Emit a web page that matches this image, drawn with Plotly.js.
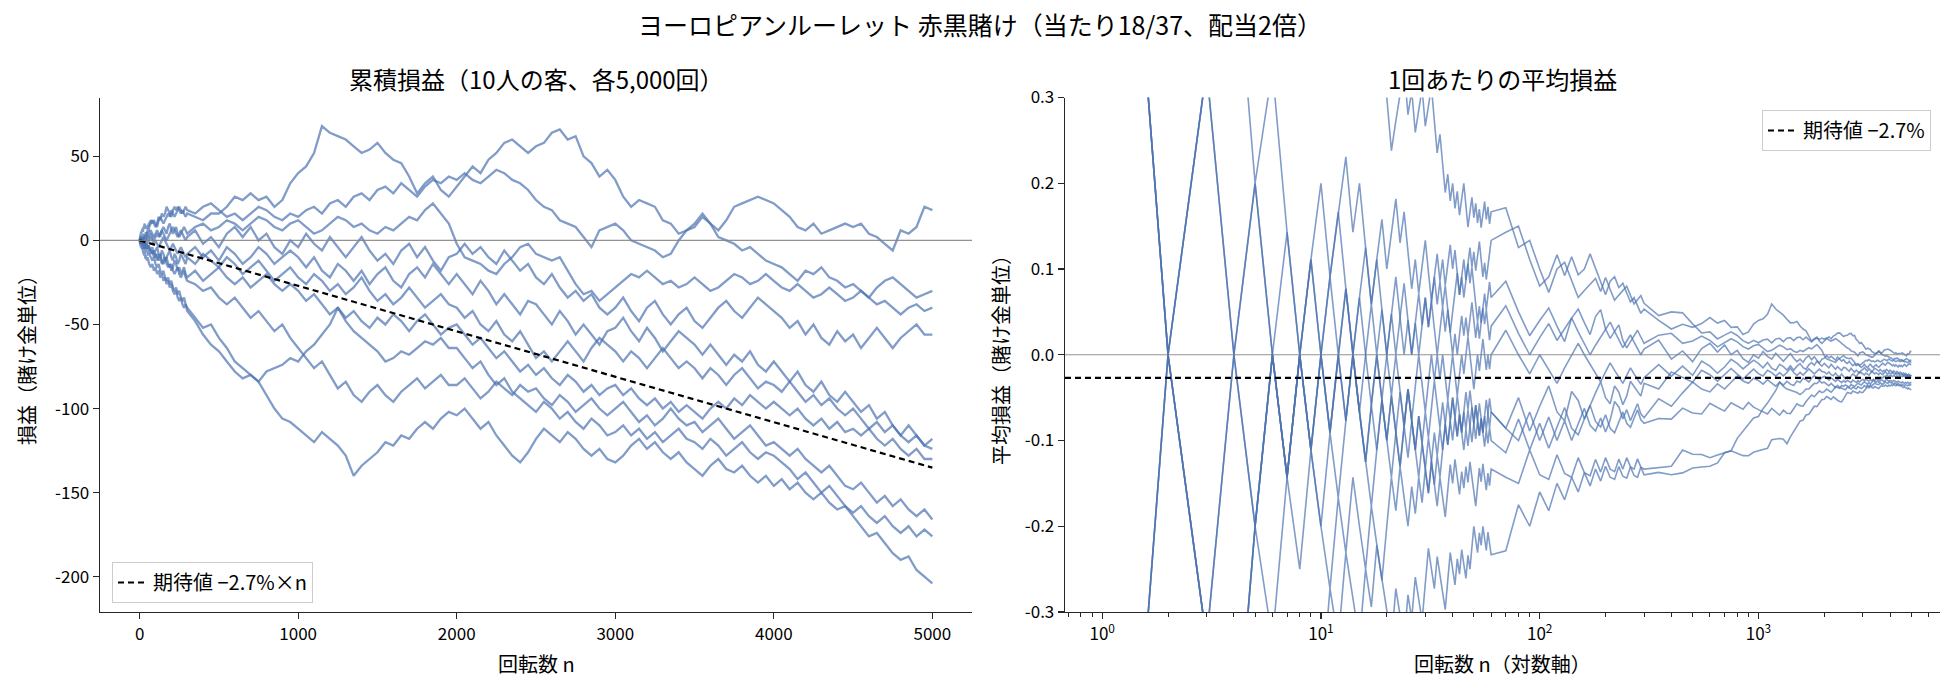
<!DOCTYPE html>
<html>
<head>
<meta charset="utf-8">
<script src="https://cdn.plot.ly/plotly-3.0.1.min.js"></script>
<style>
  body { margin: 0; background: #fff; }
  #chart { width: 1960px; height: 700px; }
</style>
</head>
<body>
<div id="chart"></div>
<script>
// --- data --------------------------------------------------------------
// first 60 spins of each player (1 = win, 0 = loss)
const spins1  = '1011010011 0110100110 1101001011 0011010110 1001101101 0110010111';
const spins2  = '1101101110 1011011010 0111010110 1100100101 0101100110 1010110101';
const spins3  = '0101100101 1100110100 1011001101 0110101001 1101011010 0010110110';
const spins4  = '1001011010 0110100101 1100101011 0100110100 1011010110 0101101001';
const spins5  = '0110010101 1010011010 0100101100 1101010011 0011011000 1101100101';
const spins6  = '1010100110 0101001010 1001100101 0110010010 1010110100 0101011001';
const spins7  = '0100110010 1011001100 0110100100 1001011011 0100101001 1010010110';
const spins8  = '0010101101 0101000110 1001010010 0110101101 0010010110 1001001010';
const spins9  = '1000110100 0101001001 1010010101 0100100110 1001010100 0110100101';
const spins10 = '0001010010 1010010100 0100101001 1001000110 0101001011 0010100100';

// spin counts where the running total was read
const checkN = [
  70, 80, 90, 100, 110, 120, 130, 140, 150, 160, 170, 180, 190, 200, 210, 220, 230, 240, 250, 260, 270, 280, 290, 300,
  350, 400, 450, 500, 550, 600, 650, 700, 750, 800, 850, 900, 950, 1000,
  1050, 1100, 1150, 1200, 1250, 1300, 1350, 1400, 1450, 1500, 1550, 1600, 1650, 1700, 1750, 1800, 1850, 1900, 1950, 2000,
  2050, 2100, 2150, 2200, 2250, 2300, 2350, 2400, 2450, 2500, 2550, 2600, 2650, 2700, 2750, 2800, 2850, 2900, 2950, 3000,
  3050, 3100, 3150, 3200, 3250, 3300, 3350, 3400, 3450, 3500, 3550, 3600, 3650, 3700, 3750, 3800, 3850, 3900, 3950, 4000,
  4050, 4100, 4150, 4200, 4250, 4300, 4350, 4400, 4450, 4500, 4550, 4600, 4650, 4700, 4750, 4800, 4850, 4900, 4950, 5000
];

// running profit/loss of each player at checkN
const total1 = [
  10, 12, 10, 8, 10, 14, 12, 16, 14, 16, 20, 18, 16, 14, 18, 20, 18, 20, 18, 16, 18, 16, 14, 16,
  14, 12, 16, 16, 20, 26, 24, 28, 24, 26, 20, 24, 34, 40,
  44, 52, 68, 64, 62, 60, 56, 52, 54, 58, 52, 48, 46, 38, 28, 34, 38, 30, 26, 32,
  38, 44, 40, 48, 52, 58, 60, 56, 52, 56, 58, 64, 66, 60, 62, 50, 46, 38, 42, 36,
  26, 20, 24, 22, 20, 12, 10, 4, 6, 8, 14, 10, 6, 12, 20, 22, 24, 26, 24, 22,
  18, 14, 8, 6, 10, 4, 6, 8, 10, 8, 10, 4, 2, -2, -6, 6, 4, 8, 20, 18
];
const total2 = [
  12, 10, 12, 10, 8, 12, 14, 12, 10, 12, 14, 16, 14, 18, 16, 14, 16, 18, 20, 18, 16, 18, 20, 18,
  16, 20, 22, 18, 14, 16, 12, 16, 20, 18, 14, 12, 16, 14,
  18, 20, 16, 22, 24, 20, 26, 28, 24, 30, 32, 28, 34, 30, 26, 32, 36, 34, 38, 36,
  40, 36, 34, 38, 42, 40, 36, 34, 30, 24, 20, 18, 12, 10, 8, 2, -4, 6, 8, 10,
  6, 0, -2, -4, -6, -10, -8, 0, 6, 10, 16, 10, 2, 0, -2, -6, -4, -8, -12, -14,
  -16, -20, -24, -18, -20, -16, -22, -24, -28, -26, -30, -34, -28, -24, -22, -26, -30, -34, -32, -30
];
const total3 = [
  6, 4, 2, 4, 6, 4, 2, 6, 8, 6, 4, 8, 10, 6, 4, 6, 8, 4, 2, 4, 6, 8, 6, 4,
  8, 10, 6, 8, 12, 10, 6, 10, 14, 12, 8, 6, 10, 12,
  8, 4, 6, 10, 14, 12, 8, 10, 6, 4, 8, 6, 10, 14, 12, 18, 22, 16, 10, -2,
  -10, -12, -14, -18, -20, -14, -10, -4, -2, -8, -10, -12, -10, -18, -26, -32, -30, -36, -32, -28,
  -24, -20, -22, -18, -22, -26, -24, -28, -26, -22, -26, -30, -28, -24, -20, -22, -26, -24, -20, -24,
  -28, -30, -26, -30, -34, -32, -28, -32, -36, -34, -30, -34, -38, -36, -40, -44, -40, -38, -42, -40
];
const total4 = [
  4, 2, 0, 2, 4, 2, 4, 6, 4, 2, 0, 2, 4, 6, 8, 6, 4, 2, 4, 6, 4, 2, 0, 2,
  6, -2, 2, -4, 4, 8, 2, 8, 0, 4, -4, -8, 0, -4,
  4, -2, -6, 2, -4, -10, -4, 2, -6, -12, -8, -14, -6, -2, -10, -4, -12, -18, -10, -8,
  -2, -8, -4, -10, -14, -6, -12, -18, -14, -22, -26, -20, -28, -34, -30, -36, -32, -40, -44, -40,
  -34, -42, -48, -40, -36, -44, -50, -44, -40, -48, -52, -46, -40, -36, -42, -46, -40, -34, -38, -42,
  -46, -52, -48, -56, -50, -58, -62, -54, -60, -56, -64, -58, -52, -58, -64, -58, -54, -50, -56, -56
];
const total5 = [
  2, 0, -2, 0, -2, -4, -2, 0, 2, 0, -2, -4, -6, -4, -2, -4, -6, -8, -6, -4, -6, -8, -10, -8,
  -4, -10, -6, -12, -4, -8, -14, -10, -4, -8, -14, -10, -6, -10,
  -16, -10, -18, -22, -14, -18, -24, -18, -26, -20, -16, -24, -28, -20, -16, -22, -14, -20, -26, -20,
  -26, -32, -24, -30, -38, -32, -38, -44, -36, -38, -44, -50, -42, -48, -56, -50, -56, -62, -54, -52,
  -46, -54, -60, -52, -58, -66, -60, -54, -58, -62, -68, -62, -68, -74, -68, -72, -66, -74, -78, -72,
  -78, -84, -78, -86, -90, -84, -92, -96, -90, -96, -102, -98, -106, -102, -110, -116, -110, -116, -122, -118
];
const total6 = [
  -6, -4, -8, -6, -4, -8, -10, -6, -8, -12, -10, -8, -6, -10, -12, -8, -10, -14, -12, -8, -10, -12, -14, -10,
  -14, -8, -12, -16, -10, -14, -20, -16, -12, -18, -24, -20, -16, -22,
  -26, -20, -24, -30, -26, -32, -28, -22, -30, -36, -32, -38, -34, -28, -34, -40, -36, -32, -38, -40,
  -46, -42, -50, -54, -48, -56, -60, -54, -62, -70, -66, -72, -66, -60, -66, -72, -64, -58, -62, -66,
  -72, -66, -70, -76, -70, -64, -70, -76, -72, -76, -82, -76, -80, -86, -80, -76, -82, -88, -84, -86,
  -90, -84, -90, -96, -92, -98, -94, -100, -104, -100, -106, -112, -108, -114, -110, -116, -120, -116, -122, -124
];
const total7 = [
  -6, -8, -6, -10, -8, -12, -10, -14, -12, -10, -14, -16, -14, -18, -16, -12, -14, -18, -16, -20, -18, -16, -20, -22,
  -18, -24, -20, -16, -22, -26, -22, -28, -24, -20, -26, -30, -26, -30,
  -36, -32, -38, -44, -40, -46, -42, -48, -52, -46, -50, -44, -48, -54, -48, -44, -50, -56, -52, -50,
  -56, -62, -58, -64, -70, -66, -72, -78, -74, -80, -76, -82, -86, -80, -84, -90, -86, -92, -88, -86,
  -92, -88, -94, -98, -94, -100, -96, -102, -98, -102, -106, -100, -96, -100, -94, -98, -92, -96, -100, -96,
  -100, -104, -100, -106, -110, -106, -112, -108, -114, -112, -116, -112, -118, -122, -118, -124, -128, -124, -130, -130
];
const total8 = [
  -8, -6, -10, -8, -12, -10, -8, -12, -14, -12, -10, -14, -16, -14, -18, -20, -18, -16, -20, -22, -20, -18, -22, -24,
  -26, -30, -28, -34, -38, -34, -40, -46, -42, -48, -54, -50, -58, -64,
  -70, -76, -72, -80, -88, -84, -92, -96, -90, -86, -92, -96, -90, -86, -82, -88, -84, -80, -86, -86,
  -82, -88, -94, -90, -84, -88, -92, -86, -90, -88, -94, -98, -92, -96, -102, -98, -94, -100, -104, -100,
  -96, -102, -108, -104, -110, -106, -100, -106, -110, -108, -114, -110, -106, -112, -118, -114, -110, -116, -122, -120,
  -124, -128, -124, -130, -134, -138, -134, -140, -146, -148, -144, -150, -156, -152, -158, -154, -160, -164, -160, -166
];
const total9 = [
  -10, -12, -10, -14, -16, -14, -18, -20, -18, -22, -24, -22, -26, -24, -28, -30, -28, -32, -30, -34, -36, -34, -38, -40,
  -46, -52, -50, -58, -64, -72, -76, -80, -84, -78, -76, -74, -70, -72,
  -66, -62, -56, -50, -40, -48, -54, -58, -62, -66, -72, -70, -66, -68, -64, -60, -62, -58, -64, -64,
  -70, -76, -72, -80, -86, -82, -90, -94, -98, -102, -96, -100, -106, -102, -108, -112, -106, -110, -116, -114,
  -110, -116, -112, -118, -114, -120, -116, -112, -118, -120, -124, -118, -122, -128, -124, -120, -126, -130, -126, -128,
  -132, -136, -142, -138, -144, -150, -146, -152, -158, -162, -158, -164, -168, -164, -170, -174, -170, -176, -172, -176
];
const total10 = [
  -16, -14, -18, -16, -20, -18, -22, -20, -24, -22, -26, -24, -28, -26, -30, -32, -30, -34, -36, -34, -38, -40, -38, -42,
  -48, -56, -62, -66, -72, -78, -82, -80, -84, -92, -100, -106, -108, -112,
  -116, -120, -114, -118, -122, -128, -140, -134, -130, -126, -120, -122, -116, -118, -112, -108, -112, -106, -102, -104,
  -100, -106, -112, -108, -116, -122, -128, -132, -126, -118, -112, -116, -120, -114, -118, -124, -128, -124, -130, -132,
  -128, -122, -118, -124, -120, -126, -130, -126, -132, -136, -140, -134, -130, -136, -138, -134, -140, -144, -140, -146,
  -142, -148, -144, -150, -154, -150, -156, -160, -158, -164, -170, -176, -174, -180, -186, -190, -188, -196, -200, -204
];

const allSpins = [spins1, spins2, spins3, spins4, spins5, spins6, spins7, spins8, spins9, spins10];
const allTotals = [total1, total2, total3, total4, total5, total6, total7, total8, total9, total10];

const nSpins = 5000;
const houseEdge = -1 / 37;          // 18/37 * (+1) + 19/37 * (-1)

// --- styling ---------------------------------------------------------------
const FONT = '"Noto Sans CJK JP", "Noto Sans", sans-serif';
const WALK = 'rgba(76,114,176,0.70)';
const INK = '#262626';
const xRange2 = [-0.17, 3.83];

// running total: per-spin part first, then the checkpoints
function buildPath(spins, totals) {
    const n = [];
    const total = [];
    let run = 0;
    for (const ch of spins) {
        if (ch !== '0' && ch !== '1') continue;
        run += ch === '1' ? 1 : -1;
        n.push(n.length + 1);
        total.push(run);
    }
    if (totals.length !== checkN.length) console.warn('length mismatch', totals.length);
    checkN.forEach((k, j) => { n.push(k); total.push(totals[j]); });
    return { n, total };
}

const traces = [];
const paths = allSpins.map((s, i) => buildPath(s, allTotals[i]));

paths.forEach(p => {
    traces.push({
        x: p.n, y: p.total, xaxis: 'x', yaxis: 'y',
        type: 'scatter', mode: 'lines',
        line: { color: WALK, width: 2.3 },
        showlegend: false, hoverinfo: 'skip'
    });
});
paths.forEach(p => {
    traces.push({
        x: p.n, y: p.total.map((v, i) => v / p.n[i]), xaxis: 'x2', yaxis: 'y2',
        type: 'scatter', mode: 'lines',
        line: { color: WALK, width: 1.6 },
        showlegend: false, hoverinfo: 'skip'
    });
});

// expected value lines
traces.push({
    x: [0, nSpins], y: [0, nSpins * houseEdge], xaxis: 'x', yaxis: 'y',
    type: 'scatter', mode: 'lines', name: '期待値 −2.7%×n',
    line: { color: '#000', width: 2.2, dash: '6px,4px' },
    legend: 'legend', hoverinfo: 'skip'
});
traces.push({
    x: [Math.pow(10, xRange2[0]), Math.pow(10, xRange2[1])], y: [houseEdge, houseEdge],
    xaxis: 'x2', yaxis: 'y2',
    type: 'scatter', mode: 'lines', name: '期待値 −2.7%',
    line: { color: '#000', width: 2.2, dash: '6px,4px' },
    legend: 'legend2', hoverinfo: 'skip'
});

const axisCommon = {
    showgrid: false, zeroline: false,
    showline: true, linecolor: INK, linewidth: 1.3,
    ticks: 'outside', ticklen: 6, tickwidth: 1.3, tickcolor: INK,
    tickfont: { family: FONT, size: 17, color: '#000' }
};

const minorLog = [0.7, 0.8, 0.9, 2, 3, 4, 5, 6, 7, 8, 9, 20, 30, 40, 50, 60, 70, 80, 90,
                  200, 300, 400, 500, 600, 700, 800, 900, 2000, 3000, 4000, 5000, 6000];

const legendCommon = {
    font: { family: FONT, size: 20, color: '#000' },
    bgcolor: 'rgba(255,255,255,0.85)', bordercolor: '#cccccc', borderwidth: 1
};

const LABEL = { family: FONT, size: 20, color: '#000' };
const HEAD = { family: FONT, size: 24, color: '#000' };

const layout = {
    width: 1960, height: 700,
    margin: { l: 0, r: 0, t: 0, b: 0 },
    paper_bgcolor: '#fff', plot_bgcolor: '#fff',
    font: { family: FONT, color: '#000' },
    title: {
        text: 'ヨーロピアンルーレット 赤黒賭け（当たり18/37、配当2倍）',
        font: { family: FONT, size: 25, color: '#000' },
        x: 0.5, xanchor: 'center', y: 1 - 26 / 700, yanchor: 'middle', yref: 'container'
    },
    xaxis: Object.assign({}, axisCommon, {
        domain: [100 / 1960, 972 / 1960], anchor: 'y',
        range: [-250, 5250],
        tickmode: 'array', tickvals: [0, 1000, 2000, 3000, 4000, 5000],
        ticktext: ['0', '1000', '2000', '3000', '4000', '5000']
    }),
    yaxis: Object.assign({}, axisCommon, {
        domain: [1 - 612 / 700, 1 - 97.5 / 700], anchor: 'x',
        range: [-221, 85],
        tickmode: 'array', tickvals: [-200, -150, -100, -50, 0, 50],
        ticktext: ['-200', '-150', '-100', '-50', '0', '50']
    }),
    xaxis2: Object.assign({}, axisCommon, {
        domain: [1065 / 1960, 1940 / 1960], anchor: 'y2',
        type: 'log', range: xRange2,
        tickmode: 'array', tickvals: [1, 10, 100, 1000],
        ticktext: ['10<sup>0</sup>', '10<sup>1</sup>', '10<sup>2</sup>', '10<sup>3</sup>'],
        minor: { ticks: 'outside', ticklen: 3.5, tickwidth: 1, tickcolor: INK,
                 tickmode: 'array', tickvals: minorLog }
    }),
    yaxis2: Object.assign({}, axisCommon, {
        domain: [1 - 612 / 700, 1 - 97.5 / 700], anchor: 'x2',
        range: [-0.3, 0.3],
        tickmode: 'array', tickvals: [-0.3, -0.2, -0.1, 0, 0.1, 0.2, 0.3],
        ticktext: ['-0.3', '-0.2', '-0.1', '0.0', '0.1', '0.2', '0.3']
    }),
    legend: Object.assign({}, legendCommon, {
        x: 112 / 1960, y: 1 - 603 / 700, xanchor: 'left', yanchor: 'bottom'
    }),
    legend2: Object.assign({}, legendCommon, {
        x: 1931 / 1960, y: 1 - 110 / 700, xanchor: 'right', yanchor: 'top'
    }),
    shapes: [
        { type: 'line', xref: 'x domain', x0: 0, x1: 1, yref: 'y', y0: 0, y1: 0,
          line: { color: 'rgba(128,128,128,0.85)', width: 1.1 }, layer: 'above' },
        { type: 'line', xref: 'x2 domain', x0: 0, x1: 1, yref: 'y2', y0: 0, y1: 0,
          line: { color: 'rgba(128,128,128,0.85)', width: 1.1 }, layer: 'above' }
    ],
    annotations: [
        { text: '累積損益（10人の客、各5,000回）', xref: 'paper', yref: 'paper',
          x: 536 / 1960, y: 1 - 78 / 700, xanchor: 'center', yanchor: 'middle',
          showarrow: false, font: HEAD },
        { text: '1回あたりの平均損益', xref: 'paper', yref: 'paper',
          x: 1502 / 1960, y: 1 - 78 / 700, xanchor: 'center', yanchor: 'middle',
          showarrow: false, font: HEAD },
        { text: '回転数 n', xref: 'paper', yref: 'paper',
          x: 536 / 1960, y: 1 - 663 / 700, xanchor: 'center', yanchor: 'middle',
          showarrow: false, font: LABEL },
        { text: '回転数 n（対数軸）', xref: 'paper', yref: 'paper',
          x: 1502 / 1960, y: 1 - 663 / 700, xanchor: 'center', yanchor: 'middle',
          showarrow: false, font: LABEL },
        { text: '損益（賭け金単位）', xref: 'paper', yref: 'paper',
          x: 26 / 1960, y: 1 - 355 / 700, xanchor: 'center', yanchor: 'middle', textangle: -90,
          showarrow: false, font: LABEL },
        { text: '平均損益（賭け金単位）', xref: 'paper', yref: 'paper',
          x: 1000 / 1960, y: 1 - 355 / 700, xanchor: 'center', yanchor: 'middle', textangle: -90,
          showarrow: false, font: LABEL }
    ]
};

Plotly.newPlot('chart', traces, layout, { staticPlot: true, displayModeBar: false });
</script>
</body>
</html>
